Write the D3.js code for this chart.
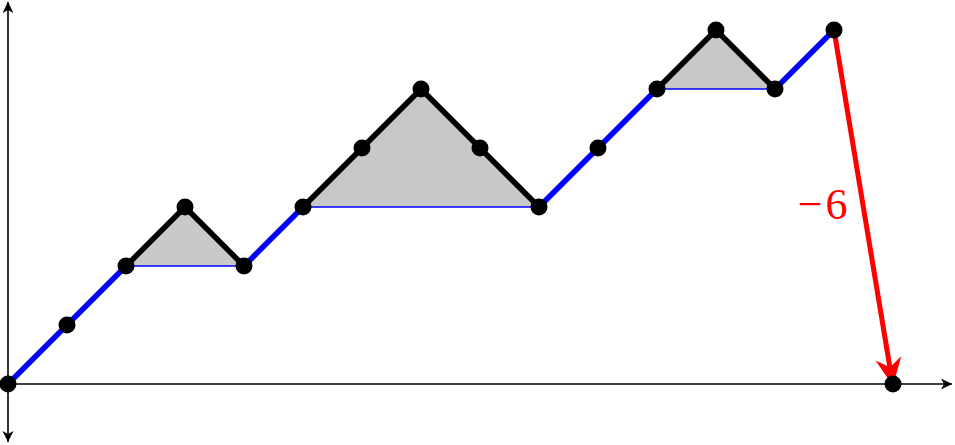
<!DOCTYPE html>
<html>
<head>
<meta charset="utf-8">
<script src="https://cdn.jsdelivr.net/npm/d3@7"></script>
<style>
  html, body { margin: 0; padding: 0; background: #fff; }
  svg { display: block; }
</style>
</head>
<body>
<div id="chart"></div>
<script>
// DATA: THE LATTICE PATH
const steps   = [0, 1, 2, 3, 4, 5, 6, 7, 8, 9, 10, 11, 12, 13, 14, 15];
const heights = [0, 1, 2, 3, 2, 3, 4, 5, 4, 3, 4, 5, 6, 5, 6, 0];
// KIND OF EACH STEP (FROM POINT i TO POINT i+1)
const stepKinds = ["up", "up", "loop", "loop", "up", "loop", "loop", "loop", "loop",
                   "up", "up", "loop", "loop", "up", "drop"];
// SHADED EXCURSIONS: [START INDEX, END INDEX]
const loops = [[2, 4], [5, 9], [11, 13]];
const dropSign = "\u2212";
const dropValue = "6";

// SIZE
const width = 955, height = 445;

const x = d3.scaleLinear().domain([0, 15]).range([8, 893]);
const y = d3.scaleLinear().domain([0, 6]).range([384, 30]);

const svg = d3.select("#chart")
  .append("svg")
  .attr("width", width)
  .attr("height", height);

// ARROW MARKERS
const defs = svg.append("defs");
defs.append("marker")
  .attr("id", "axisArrow")
  .attr("viewBox", "-12 -6 13 12")
  .attr("refX", 0).attr("refY", 0)
  .attr("markerWidth", 13).attr("markerHeight", 12)
  .attr("markerUnits", "userSpaceOnUse")
  .attr("orient", "auto-start-reverse")
  .append("path")
  .attr("d", "M0,0 L-11,-5.5 L-8,0 L-11,5.5 Z")
  .attr("fill", "#000");

defs.append("marker")
  .attr("id", "redArrow")
  .attr("viewBox", "-30 -15 31 30")
  .attr("refX", 0).attr("refY", 0)
  .attr("markerWidth", 31).attr("markerHeight", 30)
  .attr("markerUnits", "userSpaceOnUse")
  .attr("orient", "auto")
  .append("path")
  .attr("d", "M0,0 L-28,-13 L-19,0 L-28,13 Z")
  .attr("fill", "red");

// AXES
svg.append("line")
  .attr("x1", x(0)).attr("y1", height - 3)
  .attr("x2", x(0)).attr("y2", 2)
  .attr("stroke", "#000").attr("stroke-width", 1.6)
  .attr("marker-start", "url(#axisArrow)")
  .attr("marker-end", "url(#axisArrow)");

svg.append("line")
  .attr("x1", x(0)).attr("y1", y(0))
  .attr("x2", width - 3).attr("y2", y(0))
  .attr("stroke", "#000").attr("stroke-width", 1.6)
  .attr("marker-end", "url(#axisArrow)");

const pts = steps.map((s, i) => ({ s: s, h: heights[i] }));

// SHADED EXCURSIONS
const line = d3.line().x(d => x(d.s)).y(d => y(d.h));

svg.selectAll(".loop")
  .data(loops)
  .join("path")
  .attr("class", "loop")
  .attr("d", d => line(pts.slice(d[0], d[1] + 1)) + "Z")
  .attr("fill", "#c8c8c8");

svg.selectAll(".base")
  .data(loops)
  .join("line")
  .attr("class", "base")
  .attr("x1", d => x(pts[d[0]].s)).attr("y1", d => y(pts[d[0]].h))
  .attr("x2", d => x(pts[d[1]].s)).attr("y2", d => y(pts[d[1]].h))
  .attr("stroke", "#0000ff")
  .attr("stroke-width", 1.5);

// PATH SEGMENTS
const segs = stepKinds.map((k, i) => ({ kind: k, a: pts[i], b: pts[i + 1] }));

svg.selectAll(".seg")
  .data(segs.filter(d => d.kind !== "drop"))
  .join("line")
  .attr("class", "seg")
  .attr("x1", d => x(d.a.s)).attr("y1", d => y(d.a.h))
  .attr("x2", d => x(d.b.s)).attr("y2", d => y(d.b.h))
  .attr("stroke", d => d.kind === "up" ? "#0000ff" : "#000")
  .attr("stroke-width", 5.5)
  .attr("stroke-linecap", "round");

// RED DROP ARROW
const drops = segs.filter(d => d.kind === "drop");
svg.selectAll(".drop")
  .data(drops)
  .join("line")
  .attr("class", "drop")
  .attr("x1", d => x(d.a.s)).attr("y1", d => y(d.a.h))
  .attr("x2", d => x(d.b.s)).attr("y2", d => y(d.b.h) + 2)
  .attr("stroke", "red")
  .attr("stroke-width", 5)
  .attr("marker-end", "url(#redArrow)");

const label = svg.selectAll(".dropLabel")
  .data(drops)
  .join("text")
  .attr("class", "dropLabel")
  .attr("x", d => (x(d.a.s) + x(d.b.s)) / 2 - 16)
  .attr("y", d => (y(d.a.h) + y(d.b.h)) / 2 + 12)
  .attr("text-anchor", "end")
  .attr("fill", "red")
  .style("font-family", "'Liberation Serif', 'Times New Roman', serif")
  .style("font-size", "44px");

label.append("tspan")
  .text(dropSign);

label.append("tspan")
  .attr("dx", 3)
  .text(dropValue);

// DOTS
svg.selectAll(".dot")
  .data(pts)
  .join("circle")
  .attr("class", "dot")
  .attr("cx", d => x(d.s))
  .attr("cy", d => y(d.h))
  .attr("r", 8.5)
  .attr("fill", "#000");
</script>
</body>
</html>
